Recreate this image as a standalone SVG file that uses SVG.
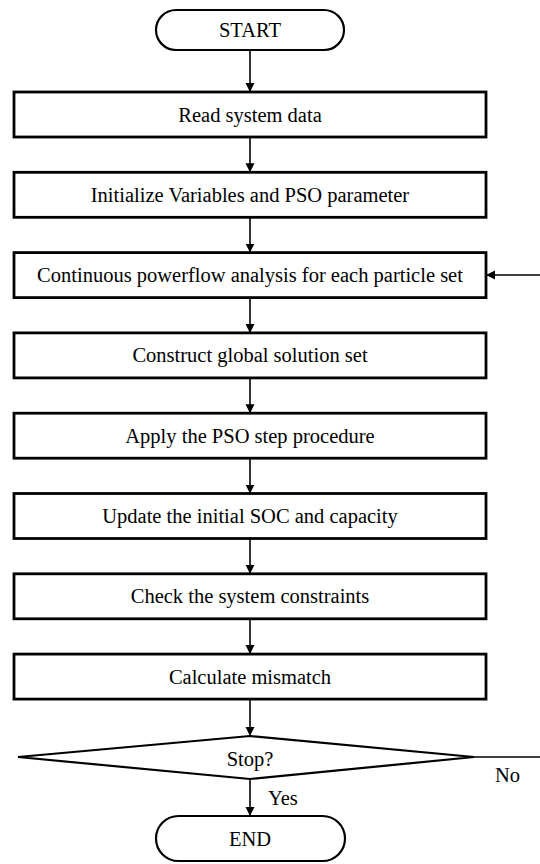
<svg xmlns="http://www.w3.org/2000/svg" width="540" height="864" viewBox="0 0 540 864">
  <style>
    .box { fill: #fff; stroke: #000; stroke-width: 2.8; }
    .term { fill: #fff; stroke: #000; stroke-width: 2.2; }
    .lbl { font-family: "Liberation Serif", "Times New Roman", serif; font-size: 20.5px; fill: #000; text-anchor: middle; }
    .side { font-family: "Liberation Serif", "Times New Roman", serif; font-size: 20.5px; fill: #000; }
    .edge { fill: none; stroke: #000; stroke-width: 1.6; }
  </style>
  <defs>
    <marker id="arrow" viewBox="0 0 10 10" refX="10" refY="5" markerWidth="9" markerHeight="10" markerUnits="userSpaceOnUse" orient="auto">
      <path d="M0,0 L10,5 L0,10 Z" fill="#000"/>
    </marker>
  </defs>
  <rect width="540" height="864" fill="#fff"/>

  <g id="connectors">
    <line class="edge" x1="250" y1="50" x2="250" y2="92" marker-end="url(#arrow)"/>
    <line class="edge" x1="250" y1="137" x2="250" y2="172.3" marker-end="url(#arrow)"/>
    <line class="edge" x1="250" y1="217.3" x2="250" y2="252.6" marker-end="url(#arrow)"/>
    <line class="edge" x1="250" y1="297.6" x2="250" y2="332.9" marker-end="url(#arrow)"/>
    <line class="edge" x1="250" y1="377.9" x2="250" y2="413.2" marker-end="url(#arrow)"/>
    <line class="edge" x1="250" y1="458.2" x2="250" y2="493.5" marker-end="url(#arrow)"/>
    <line class="edge" x1="250" y1="538.5" x2="250" y2="573.8" marker-end="url(#arrow)"/>
    <line class="edge" x1="250" y1="618.8" x2="250" y2="654.1" marker-end="url(#arrow)"/>
    <line class="edge" x1="250" y1="699.1" x2="250" y2="736" marker-end="url(#arrow)"/>
    <line class="edge" x1="250" y1="779" x2="250" y2="816" marker-end="url(#arrow)"/>
    <!-- loop back from the decision -->
    <line class="edge" x1="474" y1="757" x2="540" y2="757"/>
    <line class="edge" x1="540" y1="275" x2="486" y2="275" marker-end="url(#arrow)"/>
    <text class="side" x="495" y="782">No</text>
    <text class="side" x="268" y="805">Yes</text>
  </g>

  <g id="start">
    <rect class="term" x="156" y="10" width="188" height="40" rx="20" ry="20"/>
    <text class="lbl" x="250" y="37">START</text>
  </g>
  <g id="read">
    <rect class="box" x="14" y="92" width="472" height="45"/>
    <text class="lbl" x="250" y="121.5">Read system data</text>
  </g>
  <g id="init">
    <rect class="box" x="14" y="172.3" width="472" height="45"/>
    <text class="lbl" x="250" y="201.8">Initialize Variables and PSO parameter</text>
  </g>
  <g id="cpf">
    <rect class="box" x="14" y="252.6" width="472" height="45"/>
    <text class="lbl" x="250" y="282.1">Continuous powerflow analysis for each particle set</text>
  </g>
  <g id="global">
    <rect class="box" x="14" y="332.9" width="472" height="45"/>
    <text class="lbl" x="250" y="362.4">Construct global solution set</text>
  </g>
  <g id="pso">
    <rect class="box" x="14" y="413.2" width="472" height="45"/>
    <text class="lbl" x="250" y="442.7">Apply the PSO step procedure</text>
  </g>
  <g id="update">
    <rect class="box" x="14" y="493.5" width="472" height="45"/>
    <text class="lbl" x="250" y="523">Update the initial SOC and capacity</text>
  </g>
  <g id="check">
    <rect class="box" x="14" y="573.8" width="472" height="45"/>
    <text class="lbl" x="250" y="603.3">Check the system constraints</text>
  </g>
  <g id="mismatch">
    <rect class="box" x="14" y="654.1" width="472" height="45"/>
    <text class="lbl" x="250" y="683.6">Calculate mismatch</text>
  </g>
  <g id="stop">
    <polygon class="term" points="250,736 474,757 250,779 18,757"/>
    <text class="lbl" x="250" y="766">Stop?</text>
  </g>
  <g id="end">
    <rect class="term" x="156" y="816" width="189" height="45" rx="22.5" ry="22.5"/>
    <text class="lbl" x="250" y="845.5">END</text>
  </g>
</svg>
